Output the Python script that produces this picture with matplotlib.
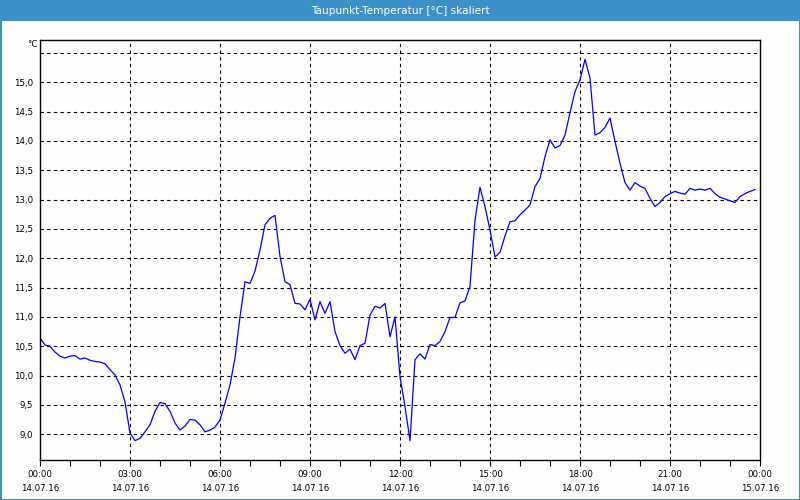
import matplotlib
matplotlib.use("Agg")
import matplotlib.pyplot as plt
from matplotlib.patches import Rectangle
from matplotlib.ticker import MultipleLocator, FixedLocator, FuncFormatter
import numpy as np

title = "Taupunkt-Temperatur [°C] skaliert"
unit = "°C"
# dew point values every 10 minutes, 14.07.16 00:00 .. 23:50
values = [
    10.64, 10.52, 10.50, 10.40, 10.33, 10.30, 10.33, 10.34, 10.28, 10.30,
    10.26, 10.24, 10.23, 10.20, 10.10, 10.01, 9.84, 9.55, 9.02, 8.89,
    8.93, 9.04, 9.16, 9.39, 9.54, 9.52, 9.39, 9.19, 9.07, 9.14,
    9.25, 9.24, 9.16, 9.04, 9.07, 9.12, 9.24, 9.53, 9.84, 10.30,
    11.00, 11.60, 11.57, 11.78, 12.14, 12.57, 12.68, 12.73, 12.03, 11.60,
    11.55, 11.23, 11.22, 11.12, 11.30, 10.95, 11.26, 11.06, 11.26, 10.75,
    10.51, 10.38, 10.45, 10.27, 10.51, 10.55, 11.03, 11.18, 11.15, 11.23,
    10.66, 11.00, 9.98, 9.47, 8.89, 10.27, 10.37, 10.28, 10.53, 10.51,
    10.58, 10.75, 10.99, 10.99, 11.24, 11.27, 11.52, 12.65, 13.21, 12.88,
    12.48, 12.02, 12.10, 12.38, 12.62, 12.64, 12.74, 12.82, 12.91, 13.22,
    13.36, 13.73, 14.02, 13.88, 13.92, 14.10, 14.48, 14.84, 15.04, 15.39,
    15.07, 14.10, 14.14, 14.23, 14.39, 13.99, 13.62, 13.29, 13.16, 13.29,
    13.23, 13.19, 13.02, 12.88, 12.95, 13.05, 13.10, 13.14, 13.11, 13.09,
    13.19, 13.16, 13.18, 13.16, 13.19, 13.10, 13.04, 13.01, 12.98, 12.95,
    13.05, 13.10, 13.14, 13.17,
]
step_minutes = 10
x_tick_times = ["00:00", "03:00", "06:00", "09:00", "12:00", "15:00", "18:00", "21:00", "00:00"]
x_tick_dates = ["14.07.16"] * 8 + ["15.07.16"]
y_tick_values = [9.0, 9.5, 10.0, 10.5, 11.0, 11.5, 12.0, 12.5, 13.0, 13.5, 14.0, 14.5, 15.0]

hours = np.arange(len(values)) * step_minutes / 60.0

plt.rcParams['font.family'] = ['DejaVu Sans']
fig = plt.figure(figsize=(8, 5), dpi=100, facecolor='#fdfefd')
W, H = 800, 500

# title bar and frame
fig.patches.append(Rectangle((0, 1 - 21 / H), 1, 21 / H, transform=fig.transFigure,
                             facecolor='#3d8fc7', edgecolor='none', zorder=0))
for (x0, y0, w, h) in [(0, 0, 1.5 / W, 1), (1 - 1.5 / W, 0, 1.5 / W, 1), (0, 0, 1, 1.5 / H)]:
    fig.patches.append(Rectangle((x0, y0), w, h, transform=fig.transFigure,
                                 facecolor='#3d8fc7', edgecolor='none', zorder=0))
fig.text(0.5, 1 - 10.5 / H, title, color='white', ha='center', va='center', fontsize=7.6)

ax = fig.add_axes([40 / W, 40 / H, 720 / W, 420 / H])
ax.set_facecolor('#fdfefd')
ax.plot(hours, values, color='#0000ff', linewidth=0.9)
ax.set_xlim(0, 24)
ax.set_ylim(8.56, 15.72)

ax.xaxis.set_major_locator(MultipleLocator(3))
ax.xaxis.set_minor_locator(MultipleLocator(1))
ax.xaxis.set_major_formatter(FuncFormatter(
    lambda v, p: f"{x_tick_times[int(round(v / 3))]}\n{x_tick_dates[int(round(v / 3))]}"
    if 0 <= int(round(v / 3)) < len(x_tick_times) else ""))
ax.yaxis.set_major_locator(FixedLocator(y_tick_values))
ax.yaxis.set_major_formatter(FuncFormatter(lambda v, p: f"{v:.1f}".replace('.', ',')))

ax.tick_params(axis='x', which='major', length=4, width=0.8, labelsize=6.2, pad=3,
               colors='black')
ax.tick_params(axis='x', which='minor', length=4, width=0.8)
ax.tick_params(axis='y', which='major', length=0, labelsize=6.2, pad=5)
for lbl in ax.get_xticklabels():
    lbl.set_linespacing(1.75)

for s in ax.spines.values():
    s.set_color('black')
    s.set_linewidth(1.0)

grid_kw = dict(color='black', linestyle=(0, (3, 3)), linewidth=0.8)
for h in range(3, 24, 3):
    ax.axvline(h, **grid_kw, zorder=1)
for v in y_tick_values + [15.5]:
    ax.axhline(v, **grid_kw, zorder=1)

ax.text(-0.004, 1 - 4 / 420, unit, transform=ax.transAxes, ha='right', va='center', fontsize=6.2)

fig.savefig("out.png", dpi=100, facecolor=fig.get_facecolor())
